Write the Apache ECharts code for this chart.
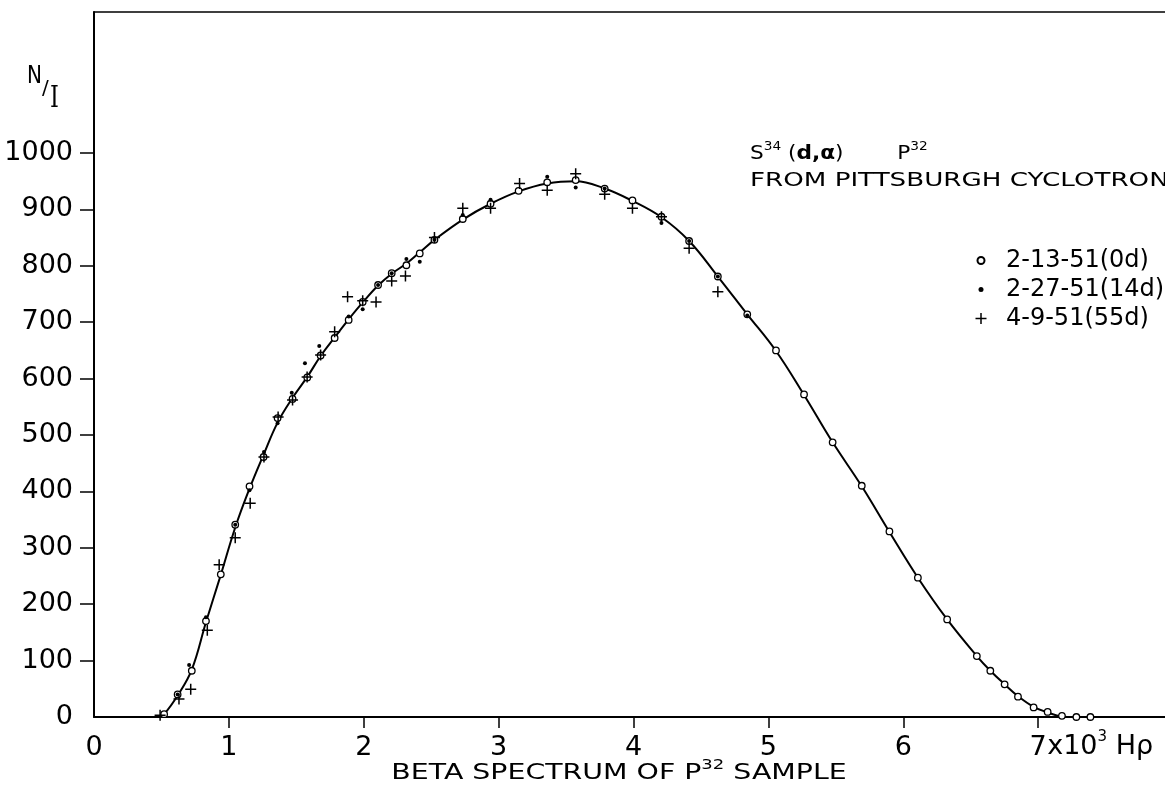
<!DOCTYPE html>
<html>
<head>
<meta charset="utf-8">
<title>Beta spectrum of P32 sample</title>
<script src="https://cdn.jsdelivr.net/npm/echarts@6/dist/echarts.min.js"></script>
<style>
  html, body { margin: 0; padding: 0; background: #fff; }
  #chart { width: 1165px; height: 790px; }
</style>
</head>
<body>
<div id="chart"></div>
<script>
// axis ticks / labels
var xLabels = [0, 1, 2, 3, 4, 5, 6, 7];
var xTicks = [1, 2, 3, 4, 5, 6, 7];
var yLabels = [0, 100, 200, 300, 400, 500, 600, 700, 800, 900, 1000];
var yTicks = [100, 200, 300, 400, 500, 600, 700, 800, 900, 1000];

// runs, [H-rho (x10^3), N/I]
var names = ['2-13-51(0d)', '2-27-51(14d)', '4-9-51(55d)'];

var run0d = [
  [0.52, 5], [0.62, 40], [0.725, 82], [0.83, 170], [0.94, 253], [1.047, 341], [1.153, 409],
  [1.257, 461], [1.361, 530], [1.472, 564], [1.581, 602], [1.68, 641], [1.784, 672], [1.888, 704],
  [1.992, 736], [2.106, 766], [2.207, 787], [2.316, 801], [2.415, 822], [2.524, 846], [2.734, 883],
  [2.94, 910], [3.148, 933], [3.36, 948], [3.571, 952], [3.786, 937], [3.992, 916], [4.207, 887],
  [4.412, 844], [4.625, 781], [4.843, 714], [5.056, 650], [5.264, 572], [5.476, 487], [5.692, 410],
  [5.897, 329], [6.108, 247], [6.325, 173], [6.545, 108], [6.645, 82], [6.751, 58], [6.85, 36],
  [6.966, 17], [7.07, 9], [7.176, 2], [7.283, 0], [7.387, 0]
];

var run14d = [
  [0.62, 40], [0.705, 92], [0.83, 177], [1.047, 341], [1.153, 402], [1.26, 470], [1.361, 521],
  [1.466, 575], [1.564, 627], [1.67, 658], [1.888, 710], [1.992, 723], [2.106, 766], [2.207, 787],
  [2.316, 812], [2.415, 807], [2.524, 846], [2.734, 890], [2.94, 917], [3.36, 958], [3.571, 939],
  [3.786, 937], [4.207, 876], [4.412, 844], [4.625, 781], [4.843, 712]
];

var run55d = [
  [0.49, 3], [0.63, 32], [0.717, 49], [0.84, 154], [0.928, 270], [1.047, 318], [1.158, 379],
  [1.26, 461], [1.365, 532], [1.472, 562], [1.58, 603], [1.68, 642], [1.784, 683], [1.88, 745],
  [1.992, 738], [2.091, 736], [2.207, 773], [2.309, 782], [2.524, 850], [2.734, 902], [2.94, 902],
  [3.155, 946], [3.36, 934], [3.571, 963], [3.786, 927], [3.992, 902], [4.207, 887], [4.412, 831],
  [4.625, 754]
];

// hand drawn curve through the points
var curve = [
  [0.48, 0], [0.52, 5], [0.62, 38], [0.725, 84], [0.83, 168], [0.94, 252], [1.047, 336],
  [1.153, 405], [1.257, 465], [1.361, 522], [1.472, 566], [1.581, 603], [1.68, 640], [1.784, 673],
  [1.888, 705], [1.992, 735], [2.106, 765], [2.207, 786], [2.316, 804], [2.415, 824], [2.524, 846],
  [2.734, 882], [2.94, 910], [3.148, 932], [3.36, 946], [3.571, 950], [3.786, 937], [3.992, 915],
  [4.207, 886], [4.412, 844], [4.625, 781], [4.843, 714], [5.056, 649], [5.264, 571], [5.476, 487],
  [5.692, 409], [5.897, 328], [6.108, 247], [6.325, 173], [6.545, 108], [6.645, 82], [6.751, 58],
  [6.85, 37], [6.966, 18], [7.07, 8], [7.176, 1], [7.26, 0]
];

var font = "'DejaVu Sans', sans-serif";
var plusPath = 'path://M-0.75,-5.5h1.5v11h-1.5zM-5.5,-0.75h11v1.5h-11z';
// legend icons (first two moves only fix the box size)
var ringIcon = 'path://M-6,-6M6,6M-3.5,0a3.5,3.5 0 1,0 7,0a3.5,3.5 0 1,0 -7,0z';
var dotIcon = 'path://M-6,-6M6,6M-2.5,0a2.5,2.5 0 1,0 5,0a2.5,2.5 0 1,0 -5,0z';
var plusIcon = 'path://M-6,-6M6,6M-0.75,-5.5h1.5v11h-1.5zM-5.5,-0.75h11v1.5h-11z';

var xMax = 7.94, yMax = 1250;

var chart = echarts.init(document.getElementById('chart'));

var option = {
  backgroundColor: '#fff',
  animation: false,
  grid: { left: 94, right: 0, top: 12, bottom: 73, containLabel: false, outerBoundsMode: 'none' },
  legend: {
    orient: 'vertical',
    left: 969,
    top: 241,
    itemWidth: 12,
    itemHeight: 12,
    itemGap: 0,
    selectedMode: false,
    textStyle: { fontFamily: font, fontSize: 24, color: '#000', lineHeight: 29, padding: [0, 0, 0, 14] },
    data: [
      { name: names[0], icon: ringIcon },
      { name: names[1], icon: dotIcon },
      { name: names[2], icon: plusIcon }
    ]
  },
  xAxis: [
    {
      type: 'value',
      min: 0,
      max: xMax,
      splitLine: { show: false },
      axisLine: { lineStyle: { color: '#000', width: 2 } },
      axisTick: { customValues: xTicks, length: 11, lineStyle: { color: '#000', width: 1.5 } },
      axisLabel: { customValues: xLabels, margin: 17, color: '#000', fontFamily: font, fontSize: 27,
        formatter: function (v) { return String(v); } }
    },
    {
      // top border
      type: 'value',
      position: 'top',
      min: 0,
      max: xMax,
      splitLine: { show: false },
      axisLine: { lineStyle: { color: '#000', width: 1.5 } },
      axisTick: { show: false },
      axisLabel: { show: false }
    }
  ],
  yAxis: {
    type: 'value',
    min: 0,
    max: yMax,
    splitLine: { show: false },
    axisLine: { lineStyle: { color: '#000', width: 2 } },
    axisTick: { customValues: yTicks, length: 14, lineStyle: { color: '#000', width: 1.5 } },
    axisLabel: { customValues: yLabels, margin: 21, color: '#000', fontFamily: font, fontSize: 27,
      formatter: function (v) { return String(v); } }
  },
  graphic: [
    { id: 'yN', type: 'text', x: 27, y: 76, scaleX: 0.8,
      style: { text: 'N', fontFamily: font, fontSize: 25, fill: '#000', verticalAlign: 'middle' } },
    { id: 'ySlash', type: 'text', x: 42, y: 89,
      style: { text: '/', fontFamily: font, fontSize: 20, fill: '#000', verticalAlign: 'middle' } },
    { id: 'yI', type: 'text', x: 50, y: 99, scaleX: 0.75,
      style: { text: 'I', fontFamily: "'DejaVu Serif', serif", fontSize: 30, fill: '#000', verticalAlign: 'middle' } },
    { id: 'title1', type: 'text', x: 750, y: 154, scaleX: 1.14,
      style: {
        text: 'S{sup|34} ({b|d,α}){gap| }P{sup|32}',
        fontFamily: font, fontSize: 19, lineHeight: 27, fill: '#000', verticalAlign: 'middle',
        rich: {
          sup: { fontFamily: font, fontSize: 12, lineHeight: 14, verticalAlign: 'top' },
          b: { fontFamily: font, fontSize: 19, lineHeight: 27, fontWeight: 'bold' },
          gap: { width: 47, lineHeight: 27 }
        }
      } },
    { id: 'title2', type: 'text', x: 750, y: 181.5, scaleX: 1.376,
      style: { text: 'FROM PITTSBURGH CYCLOTRON', fontFamily: font, fontSize: 19, fill: '#000', verticalAlign: 'middle' } },
    { id: 'xName', type: 'text', x: 619, y: 773.5, scaleX: 1.29,
      style: {
        text: 'BETA SPECTRUM OF P{sup|32} SAMPLE',
        fontFamily: font, fontSize: 22, lineHeight: 30, fill: '#000', align: 'center', verticalAlign: 'middle',
        rich: { sup: { fontFamily: font, fontSize: 14, lineHeight: 16, verticalAlign: 'top' } }
      } }
  ],
  series: [
    {
      name: 'curve',
      type: 'line',
      data: curve,
      smooth: 0.4,
      showSymbol: false,
      symbol: 'none',
      silent: true,
      z: 1,
      lineStyle: { color: '#000', width: 2 }
    },
    {
      name: names[0],
      type: 'scatter',
      data: run0d,
      symbol: 'circle',
      symbolSize: 6.5,
      z: 2,
      itemStyle: { color: '#fff', borderColor: '#000', borderWidth: 1.3, opacity: 1 }
    },
    {
      name: names[1],
      type: 'scatter',
      data: run14d,
      symbol: 'circle',
      symbolSize: 4,
      z: 3,
      itemStyle: { color: '#000', opacity: 1 }
    },
    {
      name: names[2],
      type: 'scatter',
      data: run55d,
      symbol: plusPath,
      symbolSize: [11, 11],
      z: 4,
      itemStyle: { color: '#000', opacity: 1 }
    }
  ]
};

chart.setOption(option);

// unit text after the "7" tick label
var p7 = chart.convertToPixel({ xAxisIndex: 0, yAxisIndex: 0 }, [7, 0]);
chart.setOption({
  graphic: [
    { id: 'unit', type: 'text', x: p7[0] + 9, y: p7[1] + 30,
      style: {
        text: 'x10{sup|3} Hρ',
        fontFamily: font, fontSize: 27, lineHeight: 34, fill: '#000', verticalAlign: 'middle',
        rich: { sup: { fontFamily: font, fontSize: 15, lineHeight: 17, verticalAlign: 'top' } }
      } }
  ]
});
</script>
</body>
</html>
